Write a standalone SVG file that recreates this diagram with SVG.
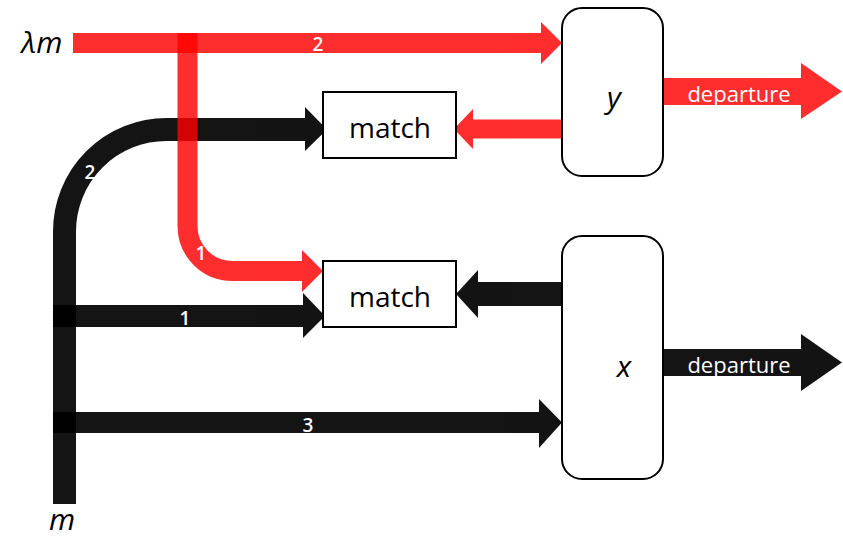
<svg xmlns="http://www.w3.org/2000/svg" width="843" height="539" viewBox="0 0 843 539">
<style>
  .red path{fill:none;stroke:#ff0000;stroke-linecap:butt}
  .red polygon{fill:#ff0000}
  .red{opacity:0.82}
  .blk path{fill:none;stroke:#000;stroke-linecap:butt}
  .blk polygon{fill:#000}
  .blk{opacity:0.92}
  .box{fill:#fff;stroke:#000;stroke-width:2}
  .lbl{font-family:"Open Sans","Liberation Sans",sans-serif;fill:#fff;font-size:19px;font-weight:600;text-anchor:middle}
  .dep{font-family:"Open Sans","Liberation Sans",sans-serif;fill:#fff;font-size:22px;text-anchor:middle}
  .big{font-family:"Open Sans","Liberation Sans",sans-serif;fill:#000;font-size:28px;text-anchor:middle}
  .it{font-family:"Open Sans","Liberation Sans",sans-serif;font-style:italic;fill:#000;font-size:30px;text-anchor:middle}
</style>
<rect width="843" height="539" fill="#fff"/>
<g id="connectors">
  <g class="blk"><path d="M64.5 504 V231.5 A102 102 0 0 1 166.5 129.5 H306" stroke-width="23"/><polygon points="305,107 327,129.5 305,151"/></g>
  <g class="blk"><path d="M53 316 H304" stroke-width="22"/><polygon points="303,293 325,316 303,338"/></g>
  <g class="blk"><path d="M53 422.5 H540" stroke-width="21"/><polygon points="539,399 562,422.5 539,448"/></g>
  <g class="blk"><path d="M562 294 H477" stroke-width="24"/><polygon points="478,270 456,294 478,318"/></g>
  <g class="blk"><path d="M663 362.5 H802" stroke-width="27"/><polygon points="801,334 842,362.5 801,391"/></g>
  <g class="red"><path d="M73 43 H542" stroke-width="20"/><polygon points="541,22 562,43 541,64"/></g>
  <g class="red"><path d="M187.5 33 V226 A45 45 0 0 0 232.5 271 H303" stroke-width="20"/><polygon points="302,250 323,271 302,292"/></g>
  <g class="red"><path d="M562 129 H472" stroke-width="19"/><polygon points="473,109 454,129 473,149"/></g>
  <g class="red"><path d="M663 91.5 H802" stroke-width="27"/><polygon points="801,63 842,91.5 801,119"/></g>
  <text class="lbl" x="318" y="51">2</text>
  <text class="lbl" x="90" y="179">2</text>
  <text class="lbl" x="201" y="260">1</text>
  <text class="lbl" x="185" y="325">1</text>
  <text class="lbl" x="308" y="432">3</text>
  <text class="dep" x="739" y="102">departure</text>
  <text class="dep" x="739" y="373">departure</text>
</g>
<g id="lambda-m"><text class="it" x="42" y="53">λm</text></g>
<g id="m"><text class="it" x="62" y="530">m</text></g>
<g id="y"><rect class="box" x="562" y="8" width="101" height="168" rx="20"/><text class="it" x="614" y="108">y</text></g>
<g id="x"><rect class="box" x="562" y="236" width="101" height="243" rx="20"/><text class="it" x="624" y="377">x</text></g>
<g id="match1"><rect class="box" x="323" y="92" width="133" height="66"/><text class="big" x="390" y="138">match</text></g>
<g id="match2"><rect class="box" x="323" y="261" width="133" height="66"/><text class="big" x="390" y="307">match</text></g>
</svg>
